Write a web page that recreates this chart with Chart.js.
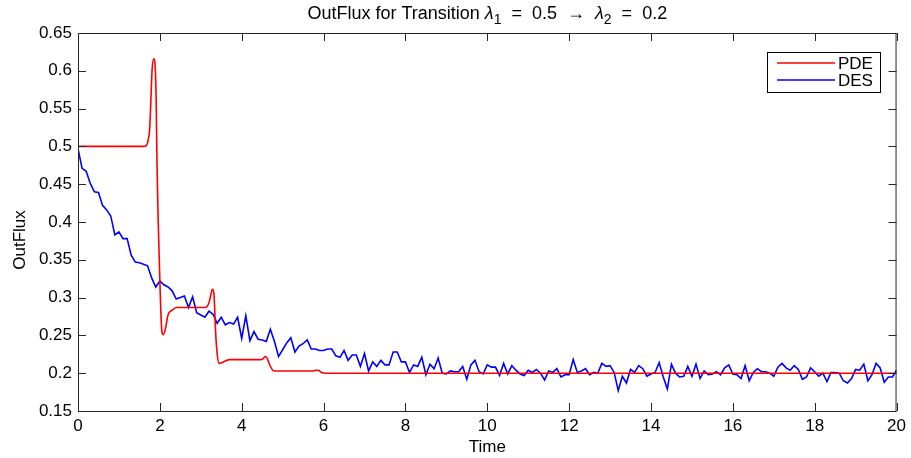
<!DOCTYPE html>
<html>
<head>
<meta charset="utf-8">
<script src="https://cdn.jsdelivr.net/npm/chart.js@4"></script>
<style>
  html, body { margin: 0; padding: 0; background: #fff; }
  #wrap { width: 911px; height: 458px; }
</style>
</head>
<body>
<div id="wrap"><canvas id="chart" width="911" height="458"></canvas></div>
<script>
// ticks
const xTicks = [0, 2, 4, 6, 8, 10, 12, 14, 16, 18, 20];
const yTicks = [0.15, 0.2, 0.25, 0.3, 0.35, 0.4, 0.45, 0.5, 0.55, 0.6, 0.65];

// PDE solution (smooth curve, read at its turning points)
const pdeTime = [0, 1.60, 1.67, 1.72, 1.75, 1.78, 1.81, 1.85, 1.89, 1.91,
  1.93, 1.96, 2.00, 2.04, 2.08, 2.13, 2.20, 2.26, 2.32, 2.40,
  3.10, 3.15, 3.21, 3.25, 3.28, 3.32, 3.34, 3.36, 3.40, 3.45,
  3.52, 3.60, 3.70, 4.45, 4.52, 4.57, 4.62, 4.67, 4.73, 4.79,
  4.85, 5.00, 5.75, 5.82, 5.87, 5.95, 6.05, 7.00, 20];
const pdeFlux = [0.500, 0.500, 0.501, 0.510, 0.522, 0.560, 0.601, 0.616, 0.601, 0.560,
  0.478, 0.400, 0.323, 0.262, 0.251, 0.257, 0.277, 0.282, 0.284, 0.287,
  0.287, 0.288, 0.295, 0.305, 0.311, 0.306, 0.285, 0.257, 0.226, 0.213,
  0.214, 0.216, 0.218, 0.218, 0.219, 0.222, 0.220, 0.213, 0.206, 0.203,
  0.203, 0.203, 0.203, 0.204, 0.204, 0.201, 0.200, 0.200, 0.200];

// DES simulation, sampled every 0.1 time units from 0 to 20
const desStep = 0.1;
const desFlux = [
  0.497, 0.471, 0.467, 0.451, 0.440, 0.439, 0.422, 0.416, 0.408, 0.383,
  0.387, 0.378, 0.378, 0.356, 0.347, 0.346, 0.344, 0.342, 0.326, 0.314,
  0.322, 0.317, 0.314, 0.309, 0.298, 0.300, 0.302, 0.287, 0.301, 0.280,
  0.277, 0.274, 0.282, 0.278, 0.266, 0.274, 0.264, 0.267, 0.265, 0.274,
  0.246, 0.276, 0.243, 0.255, 0.245, 0.244, 0.242, 0.258, 0.242, 0.222,
  0.231, 0.240, 0.247, 0.228, 0.236, 0.239, 0.244, 0.232, 0.232, 0.230,
  0.230, 0.232, 0.232, 0.223, 0.221, 0.230, 0.217, 0.224, 0.224, 0.209,
  0.226, 0.203, 0.215, 0.209, 0.217, 0.211, 0.211, 0.228, 0.228, 0.215,
  0.215, 0.201, 0.211, 0.209, 0.221, 0.198, 0.212, 0.206, 0.220, 0.200,
  0.199, 0.203, 0.202, 0.202, 0.209, 0.192, 0.211, 0.217, 0.202, 0.199,
  0.211, 0.208, 0.208, 0.197, 0.213, 0.199, 0.210, 0.204, 0.199, 0.197,
  0.204, 0.201, 0.205, 0.200, 0.191, 0.203, 0.201, 0.206, 0.195, 0.198,
  0.198, 0.218, 0.201, 0.203, 0.206, 0.198, 0.201, 0.200, 0.213, 0.209,
  0.210, 0.201, 0.177, 0.196, 0.187, 0.205, 0.201, 0.210, 0.206, 0.196,
  0.199, 0.201, 0.214, 0.195, 0.179, 0.212, 0.200, 0.195, 0.196, 0.209,
  0.196, 0.212, 0.193, 0.203, 0.198, 0.199, 0.202, 0.198, 0.207, 0.211,
  0.199, 0.198, 0.193, 0.210, 0.190, 0.201, 0.206, 0.202, 0.202, 0.200,
  0.196, 0.208, 0.213, 0.207, 0.204, 0.210, 0.205, 0.192, 0.195, 0.207,
  0.202, 0.196, 0.200, 0.189, 0.201, 0.201, 0.200, 0.190, 0.187, 0.193,
  0.205, 0.204, 0.212, 0.190, 0.198, 0.213, 0.207, 0.188, 0.195, 0.195,
  0.204];
const desTime = desFlux.map((_, i) => Math.round(i * desStep * 10) / 10);

const FONT = "'Liberation Sans', Arial, Helvetica, sans-serif";
const AXIS_COLOR = "#262626";

// box, inward ticks on all four sides, title, y label and legend (MATLAB look)
const matlabAxes = {
  id: "matlabAxes",
  afterDraw(chart) {
    const { ctx, chartArea: a, scales } = chart;
    ctx.save();
    ctx.strokeStyle = AXIS_COLOR;
    ctx.lineWidth = 1;
    ctx.strokeRect(a.left + 0.5, a.top + 0.5, a.right - a.left - 1, a.bottom - a.top);
    const len = 8;
    ctx.beginPath();
    xTicks.forEach((v) => {
      const px = Math.round(scales.x.getPixelForValue(v)) + 0.5;
      ctx.moveTo(px, a.bottom); ctx.lineTo(px, a.bottom - len);
      ctx.moveTo(px, a.top); ctx.lineTo(px, a.top + len);
    });
    yTicks.forEach((v) => {
      const py = Math.round(scales.y.getPixelForValue(v)) + 0.5;
      ctx.moveTo(a.left, py); ctx.lineTo(a.left + len, py);
      ctx.moveTo(a.right, py); ctx.lineTo(a.right - len, py);
    });
    ctx.stroke();

    // title with italic lambdas and subscripts
    const parts = [
      ["OutFlux for Transition ", "normal", 18, 0],
      ["λ", "italic", 18, 0],
      ["1", "normal", 14, 5],
      ["  =  0.5  →  ", "normal", 18, 0],
      ["λ", "italic", 18, 0],
      ["2", "normal", 14, 5],
      ["  =  0.2", "normal", 18, 0],
    ];
    let total = 0;
    parts.forEach((p) => {
      ctx.font = `${p[1]} ${p[2]}px ${FONT}`;
      total += ctx.measureText(p[0]).width;
    });
    let x = (a.left + a.right) / 2 - total / 2;
    const baseY = 19;
    ctx.fillStyle = "#000";
    ctx.textBaseline = "alphabetic";
    ctx.textAlign = "left";
    parts.forEach((p) => {
      ctx.font = `${p[1]} ${p[2]}px ${FONT}`;
      ctx.fillText(p[0], x, baseY + p[3]);
      x += ctx.measureText(p[0]).width;
    });

    // y axis label
    ctx.save();
    ctx.translate(20, 240);
    ctx.rotate(-Math.PI / 2);
    ctx.font = `17px ${FONT}`;
    ctx.textAlign = "center";
    ctx.textBaseline = "middle";
    ctx.fillText("OutFlux", 0, 0);
    ctx.restore();

    // legend
    const lx = 767, ly = 52, lw = 113, lh = 40;
    ctx.fillStyle = "#fff";
    ctx.fillRect(lx, ly, lw, lh);
    ctx.strokeStyle = "#000";
    ctx.strokeRect(lx + 0.5, ly + 0.5, lw, lh);
    ctx.font = `17px ${FONT}`;
    ctx.textAlign = "left";
    ctx.textBaseline = "middle";
    chart.data.datasets.forEach((ds, i) => {
      const y = ly + 11 + i * 17;
      ctx.strokeStyle = ds.borderColor;
      ctx.lineWidth = 1.6;
      ctx.beginPath();
      ctx.moveTo(lx + 10, y); ctx.lineTo(lx + 68, y);
      ctx.stroke();
      ctx.fillStyle = "#000";
      ctx.fillText(ds.label, lx + 71, y + 1);
    });
    ctx.restore();
  },
};

new Chart(document.getElementById("chart"), {
  type: "line",
  data: {
    datasets: [
      {
        label: "PDE",
        data: pdeTime.map((t, i) => ({ x: t, y: pdeFlux[i] })),
        borderColor: "#ff0000",
        borderWidth: 1.6,
        pointRadius: 0,
        cubicInterpolationMode: "monotone",
      },
      {
        label: "DES",
        data: desTime.map((t, i) => ({ x: t, y: desFlux[i] })),
        borderColor: "#0000ff",
        borderWidth: 1.6,
        pointRadius: 0,
        tension: 0,
      },
    ],
  },
  options: {
    responsive: false,
    animation: false,
    layout: { padding: { top: 33, right: 11, left: 0, bottom: 0 } },
    plugins: { legend: { display: false }, title: { display: false }, tooltip: { enabled: false } },
    scales: {
      x: {
        type: "linear",
        min: 0,
        max: 20,
        afterBuildTicks: (s) => { s.ticks = xTicks.map((v) => ({ value: v })); },
        afterFit: (s) => { s.height = 47; },
        grid: { display: false, drawTicks: false },
        border: { display: false },
        ticks: { padding: 5, color: "#000", font: { family: FONT, size: 17 }, maxRotation: 0 },
        title: { display: true, text: "Time", color: "#000", font: { family: FONT, size: 17 }, padding: { bottom: 0 } },
      },
      y: {
        min: 0.15,
        max: 0.65,
        afterBuildTicks: (s) => { s.ticks = yTicks.map((v) => ({ value: v })); },
        afterFit: (s) => { s.width = 78; },
        grid: { display: false, drawTicks: false },
        border: { display: false },
        ticks: {
          padding: 6,
          color: "#000",
          font: { family: FONT, size: 17 },
          callback: (v) => String(parseFloat(Number(v).toFixed(2))),
        },
      },
    },
  },
  plugins: [matlabAxes],
});
</script>
</body>
</html>
